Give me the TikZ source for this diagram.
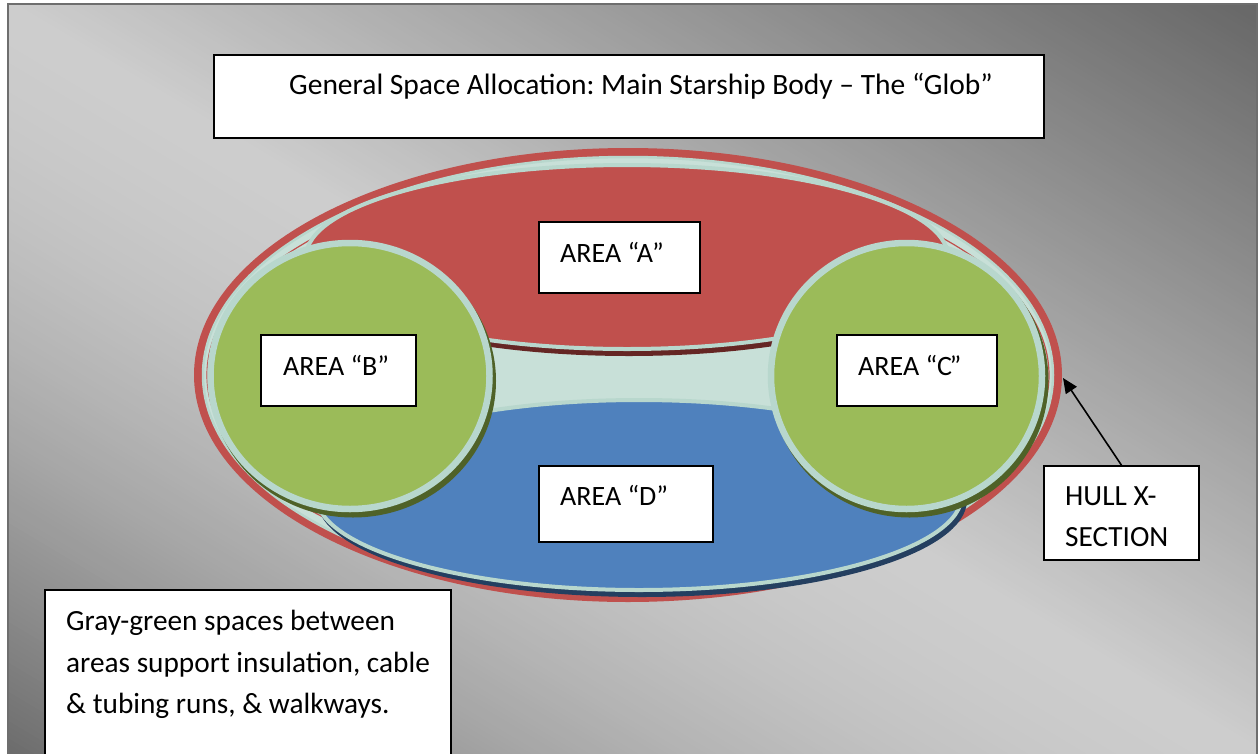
\documentclass[tikz,border=0pt]{standalone}
\usepackage{fontspec}
\setmainfont{Carlito}
\frenchspacing
\usetikzlibrary{arrows.meta}

\definecolor{framegray}{HTML}{6E6E6E}
\definecolor{hullred}{HTML}{C0504D}
\definecolor{redshadow}{HTML}{652624}
\definecolor{band}{HTML}{C8E0D8}
\definecolor{seam}{HTML}{B8D7CD}
\definecolor{areablue}{HTML}{4F81BD}
\definecolor{blueshadow}{HTML}{243F60}
\definecolor{areagreen}{HTML}{9BBB59}
\definecolor{greenshadow}{HTML}{4F6228}

\begin{document}
\begin{tikzpicture}[x=1pt, y=-1pt,
  labelbox/.style={draw=black, line width=1.6pt, fill=white, rectangle, inner sep=0pt},
  lbl/.style={font=\fontsize{28pt}{41pt}\selectfont, inner sep=0pt, anchor=base west},
  biglbl/.style={font=\fontsize{29.3pt}{41pt}\selectfont, inner sep=0pt, anchor=base west},
  titlelbl/.style={font=\fontsize{29.5pt}{41pt}\selectfont, inner sep=0pt, anchor=base west},
  pointer/.style={draw=black, line width=1.6pt, -{Triangle[length=15pt, width=13pt]}}]

\useasboundingbox (0,0) rectangle (1259,753);
\fill[white] (0,0) rectangle (1259,753);

% diagonal grey gradient: light along the top-left/bottom-right diagonal,
% darkening towards the top-right and bottom-left corners
\begin{scope}
  \clip (8,4) rectangle (1257,753);
  \foreach \i in {0,...,263} {
    \pgfmathsetmacro{\sa}{-660+5*\i}
    \pgfmathsetmacro{\sb}{\sa+5.8}
    \pgfmathsetmacro{\sm}{\sa+2.5}
    \pgfmathsetmacro{\tt}{min(abs(\sm)/642,1)}
    \pgfmathsetmacro{\gv}{(\sm>0 ? 205-102*\tt : 205-97*pow(\tt,1.7))/255}
    \definecolor{stripc}{gray}{\gv}
    \pgfmathsetmacro{\ax}{633+\sa*0.513-900*0.858}
    \pgfmathsetmacro{\ay}{378-\sa*0.858-900*0.513}
    \pgfmathsetmacro{\bx}{633+\sa*0.513+900*0.858}
    \pgfmathsetmacro{\by}{378-\sa*0.858+900*0.513}
    \pgfmathsetmacro{\cx}{633+\sb*0.513+900*0.858}
    \pgfmathsetmacro{\cy}{378-\sb*0.858+900*0.513}
    \pgfmathsetmacro{\dx}{633+\sb*0.513-900*0.858}
    \pgfmathsetmacro{\dy}{378-\sb*0.858-900*0.513}
    \fill[stripc] (\ax,\ay) -- (\bx,\by) -- (\cx,\cy) -- (\dx,\dy) -- cycle;
  }
\end{scope}
\draw[framegray, line width=2pt] (8,4) rectangle (1257,775);

% hull cross-section
\fill[hullred] (628,375) ellipse [x radius=434pt, y radius=227pt];
\filldraw[fill=band, draw=seam, line width=2.5pt] (628,375) ellipse [x radius=425pt, y radius=218pt];
\draw[hullred, line width=1.2pt] (628,375) ellipse [x radius=421pt, y radius=206pt];

% area A (upper deck)
\fill[redshadow] (629,262) ellipse [x radius=323pt, y radius=94pt];
\filldraw[fill=hullred, draw=seam, line width=4pt] (627,257) ellipse [x radius=321pt, y radius=92pt];

% area D (lower deck)
\fill[blueshadow] (642,500) ellipse [x radius=325pt, y radius=97pt];
\filldraw[fill=areablue, draw=seam, line width=4pt] (639,495) ellipse [x radius=323pt, y radius=95pt];

% area B (left)
\fill[greenshadow] (353,381) ellipse [x radius=143pt, y radius=136.5pt];
\filldraw[fill=areagreen, draw=seam, line width=6.5pt] (350,376) ellipse [x radius=139.5pt, y radius=133pt];

% area C (right)
\fill[greenshadow] (909.5,381) ellipse [x radius=139pt, y radius=136.5pt];
\filldraw[fill=areagreen, draw=seam, line width=6.5pt] (906.5,376) ellipse [x radius=135.5pt, y radius=133pt];

% title
\node[labelbox, minimum width=830pt, minimum height=83pt] (title) at (629,96.5) {};
\node[titlelbl] (titletxt) at (289,94) {General Space Allocation: Main Starship Body – The “Glob”};

% area labels
\node[labelbox, minimum width=161pt, minimum height=71pt] (boxA) at (619.5,257.5) {};
\node[lbl] (txtA) at (560,262) {AREA “A”};

\node[labelbox, minimum width=155pt, minimum height=71pt] (boxB) at (338.5,370.5) {};
\node[lbl] (txtB) at (283,375) {AREA “B”};

\node[labelbox, minimum width=160pt, minimum height=71pt] (boxC) at (917,370.5) {};
\node[lbl] (txtC) at (858,375) {AREA “C\kern-2.5pt”};

\node[labelbox, minimum width=174pt, minimum height=76pt] (boxD) at (626,504) {};
\node[lbl] (txtD) at (560,505) {AREA “D”};

% hull callout
\node[labelbox, minimum width=155pt, minimum height=94pt] (hull) at (1121.5,513) {};
\node[biglbl] (hulltxt1) at (1065,505) {HULL X-};
\node[biglbl] (hulltxt2) at (1065,546) {SECTION};
\coordinate (hulltip) at (1063,378);
\draw[pointer] (hull.north) -- (hulltip);

% note
\node[labelbox, minimum width=406pt, minimum height=180pt] (note) at (248,680) {};
\node[biglbl] (note1) at (66,630) {Gray-green spaces between};
\node[biglbl] (note2) at (66,672) {areas support insulation, cable};
\node[biglbl] (note3) at (66,713) {\& tubing runs, \& walkways.};

\end{tikzpicture}
\end{document}
